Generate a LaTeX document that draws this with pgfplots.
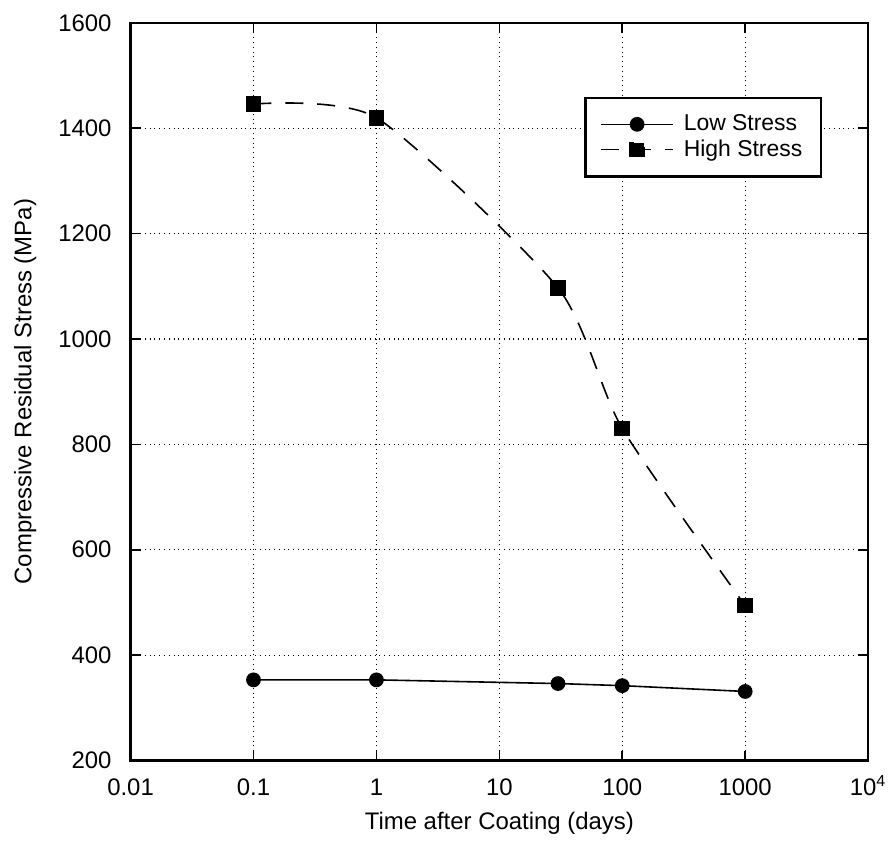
\documentclass[border=0pt]{standalone}
\usepackage{pgfplots}
\pgfplotsset{compat=1.18}
\usepackage{fontspec}
\setmainfont{Liberation Sans}
\begin{document}
\begin{tikzpicture}[x=1pt,y=1pt]
\begin{axis}[
  scale only axis,
  width=370pt, height=370pt,
  xmode=log,
  xmin=0.01, xmax=10000,
  ymin=200, ymax=1600,
  xtick={0.01,0.1,1,10,100,1000,10000},
  xticklabels={0.01,0.1,1,10,100,1000,10\textsuperscript{4}},
  ytick={200,400,600,800,1000,1200,1400,1600},
  minor tick length=0pt,
  /pgf/number format/1000 sep={},
  /pgf/number format/assume math mode=true,
  tick align=inside,
  major tick length=5pt,
  tick style={black, line width=0.8pt},
  grid=major,
  grid style={black, dotted, line width=0.6pt},
  axis line style={line width=1.1pt},
  tick label style={font=\fontsize{12}{14}\selectfont},
  yticklabel style={xshift=-6pt},
  xticklabel style={anchor=base, yshift=-17.5pt},
  label style={font=\fontsize{12}{14}\selectfont},
  xlabel={Time after Coating (days)},
  ylabel={Compressive Residual Stress (MPa)},
  xlabel style={at={(axis description cs:0.5,-0.085)}, anchor=center},
  ylabel style={at={(axis description cs:-0.143,0.5)}, anchor=center, rotate=0},
  legend style={at={(0.938,0.9)}, anchor=north east, draw=black, line width=1.2pt,
    font=\fontsize{11.5}{13}\selectfont, row sep=-1pt, inner xsep=7.5pt, inner ysep=6.5pt,
    /tikz/every odd column/.append style={column sep=3pt}},
  legend cell align=left,
]
\addplot[black, line width=0.8pt, mark=*, mark size=3.3pt, mark options={solid},
  legend image code/.code={
    \draw[black, line width=0.8pt] (0pt,0pt) -- (36pt,0pt);
    \fill[black] (18pt,0pt) circle (3.3pt);
  }]
  coordinates {(0.1,353) (1,353) (30,346) (100,342) (1000,331)};
\addlegendentry{Low Stress}
\addplot[black, line width=0.8pt, dash pattern=on 9pt off 7pt, smooth, tension=0.4,
  mark=square*, mark size=3.5pt, mark options={solid},
  legend image code/.code={
    \draw[black, line width=0.8pt, dash pattern=on 9pt off 7pt] (0pt,0pt) -- (36pt,0pt);
    \fill[black] (14.5pt,-3.5pt) rectangle (21.5pt,3.5pt);
  }]
  coordinates {(0.1,1446) (1,1420) (30,1097) (100,830) (1000,494)};
\addlegendentry{High Stress}
\end{axis}
\path (current axis.south west) ++(-65.5pt,-41pt);
\path (current axis.north east) ++(11pt,11.5pt);
\end{tikzpicture}
\end{document}
